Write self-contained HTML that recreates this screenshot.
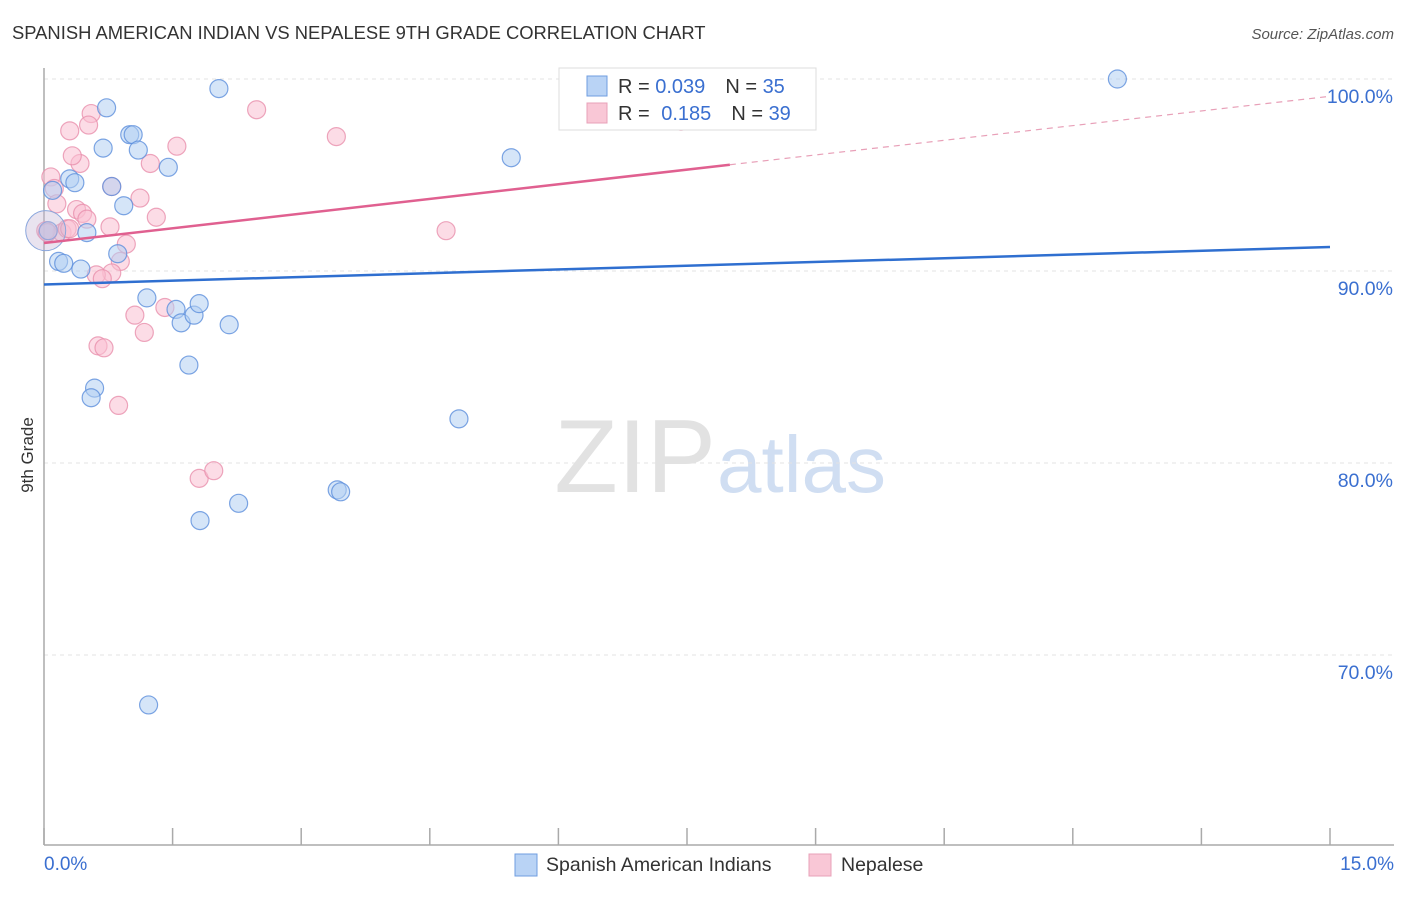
<!DOCTYPE html>
<html><head><meta charset="utf-8"><style>
body{margin:0;background:#fff;font-family:"Liberation Sans",sans-serif}
svg text{font-family:"Liberation Sans",sans-serif}
</style></head><body>
<svg id="c" width="1406" height="892">
<text x="12" y="39" font-size="18.4" fill="#333">SPANISH AMERICAN INDIAN VS NEPALESE 9TH GRADE CORRELATION CHART</text>
<text x="1394" y="39" font-size="15" fill="#555" font-style="italic" text-anchor="end">Source: ZipAtlas.com</text>
<text x="716" y="492" font-size="104" fill="#e2e2e2" text-anchor="end" font-family="Liberation Serif">ZIP</text>
<text x="717" y="492" font-size="80" fill="#d0def2">atlas</text>
<text transform="translate(33,455) rotate(-90)" font-size="17" fill="#333" text-anchor="middle">9th Grade</text>
<g id="grid"></g><g id="marks"></g>
<g>
<rect x="559" y="68" width="257" height="62" fill="#fff" stroke="#ddd"/>
<rect x="587" y="76" width="20" height="20" fill="#b9d3f5" stroke="#6f9ee0"/>
<rect x="587" y="103" width="20" height="20" fill="#f9c7d6" stroke="#e8a0b8"/>
<text x="618" y="93" font-size="20" fill="#333">R = <tspan fill="#3a6fd0">0.039</tspan><tspan dx="20">N = </tspan><tspan fill="#3a6fd0">35</tspan></text>
<text x="618" y="120" font-size="20" fill="#333">R = <tspan fill="#3a6fd0" dx="6">0.185</tspan><tspan dx="20">N = </tspan><tspan fill="#3a6fd0">39</tspan></text>
</g>
<g>
<rect x="515" y="854" width="22" height="22" fill="#b9d3f5" stroke="#6f9ee0"/>
<text x="546" y="871" font-size="19.5" fill="#333">Spanish American Indians</text>
<rect x="809" y="854" width="22" height="22" fill="#f9c7d6" stroke="#e8a0b8"/>
<text x="841" y="871" font-size="19.5" fill="#333">Nepalese</text>
</g>
</svg>
<script>
const yTicks=[100,90,80,70];
const xTickLabels=["0.0%","15.0%"];
const blueX=[0.10,0.30,0.36,0.73,0.69,1.00,1.04,1.10,0.79,0.93,1.45,2.04,0.50,0.05,0.17,0.23,0.43,0.86,1.20,1.54,1.60,1.75,1.81,1.69,2.16,0.59,0.55,4.84,5.45,12.52,3.42,3.46,2.27,1.82,1.22];
const blueY=[94.2,94.8,94.6,98.5,96.4,97.1,97.1,96.3,94.4,93.4,95.4,99.5,92.0,92.1,90.5,90.4,90.1,90.9,88.6,88.0,87.3,87.7,88.3,85.1,87.2,83.9,83.4,82.3,95.9,100.0,78.6,78.5,77.9,77.0,67.4];
const pinkX=[0.08,0.12,0.30,0.55,0.52,0.42,0.33,0.15,0.21,0.27,0.38,0.45,0.50,0.79,0.77,1.12,1.24,1.55,1.31,0.96,0.89,0.79,0.61,0.68,2.48,3.41,4.69,7.43,1.06,1.41,1.17,0.63,0.70,0.87,1.81,1.98,0.02,0.30,0.04];
const pinkY=[94.9,94.3,97.3,98.2,97.6,95.6,96.0,93.5,92.0,92.2,93.2,93.0,92.7,94.4,92.3,93.8,95.6,96.5,92.8,91.4,90.5,89.9,89.8,89.6,98.4,97.0,92.1,97.8,87.7,88.1,86.8,86.1,86.0,83.0,79.2,79.6,92.1,92.2,92.0];
const blueTrend=[89.3,91.25];
const pinkTrend=[91.46,99.1];
const NS='http://www.w3.org/2000/svg';
const X=v=>44+v/15*1286, Y=v=>79+(100-v)*19.2;
function mk(t,a,p){const e=document.createElementNS(NS,t);for(const k in a)e.setAttribute(k,a[k]);p.appendChild(e);return e;}
const g=document.getElementById('grid'),m=document.getElementById('marks');
yTicks.forEach(t=>{
 const l=mk('line',{x1:44,x2:1394,y1:Y(t),y2:Y(t),stroke:'#e3e3e3','stroke-dasharray':'4,4'},g);
 
 
 const tx=mk('text',{x:1393,y:Y(t)+24,'font-size':19.5,fill:'#3a6fd0','text-anchor':'end'},g);tx.textContent=t.toFixed(1)+'%';
 
 
});
mk('line',{x1:44,x2:44,y1:68,y2:845,stroke:'#aaa','stroke-width':1.5},g);
mk('line',{x1:44,x2:1394,y1:845,y2:845,stroke:'#aaa','stroke-width':1.5},g);
for(let i=0;i<=10;i++){const x=44+i*128.6;mk('line',{x1:x,x2:x,y1:828,y2:845,stroke:'#aaa','stroke-width':1.5},g);}
[[44,'start',0],[1394,'end',1]].forEach(([x,a,i])=>{const t=mk('text',{x:x,y:870,'font-size':19,fill:'#3a6fd0','text-anchor':a},g);t.textContent=xTickLabels[i];
 
 });
function pts(xs,ys,fill,stroke,name){xs.forEach((x,i)=>{const c=mk('circle',{cx:X(x),cy:Y(ys[i]),r:9,fill:fill,'fill-opacity':0.55,stroke:stroke,'stroke-opacity':0.8,'stroke-width':1.2},m);
 
 });}
pts(pinkX,pinkY,'#f9c0d2','#e890ad','nepalese-point');
pts(blueX,blueY,'#b3cff3','#5c8fdc','spanish-american-indian-point');
mk('circle',{cx:X(0.02),cy:Y(92.1),r:20,fill:'#c7b8d8','fill-opacity':0.4,stroke:'#8aa6dc'},m);
const bl=mk('line',{x1:X(0),y1:Y(blueTrend[0]),x2:X(15),y2:Y(blueTrend[1]),stroke:'#2f6fd0','stroke-width':2.5},m);


const py=x=>pinkTrend[0]+(pinkTrend[1]-pinkTrend[0])*x/15;
const pl=mk('line',{x1:X(0),y1:Y(py(0)),x2:X(8),y2:Y(py(8)),stroke:'#e06090','stroke-width':2.5},m);


const pd=mk('line',{x1:X(8),y1:Y(py(8)),x2:X(15),y2:Y(py(15)),stroke:'#e8a0b8','stroke-width':1.2,'stroke-dasharray':'6,5'},m);


</script>
</body></html>
